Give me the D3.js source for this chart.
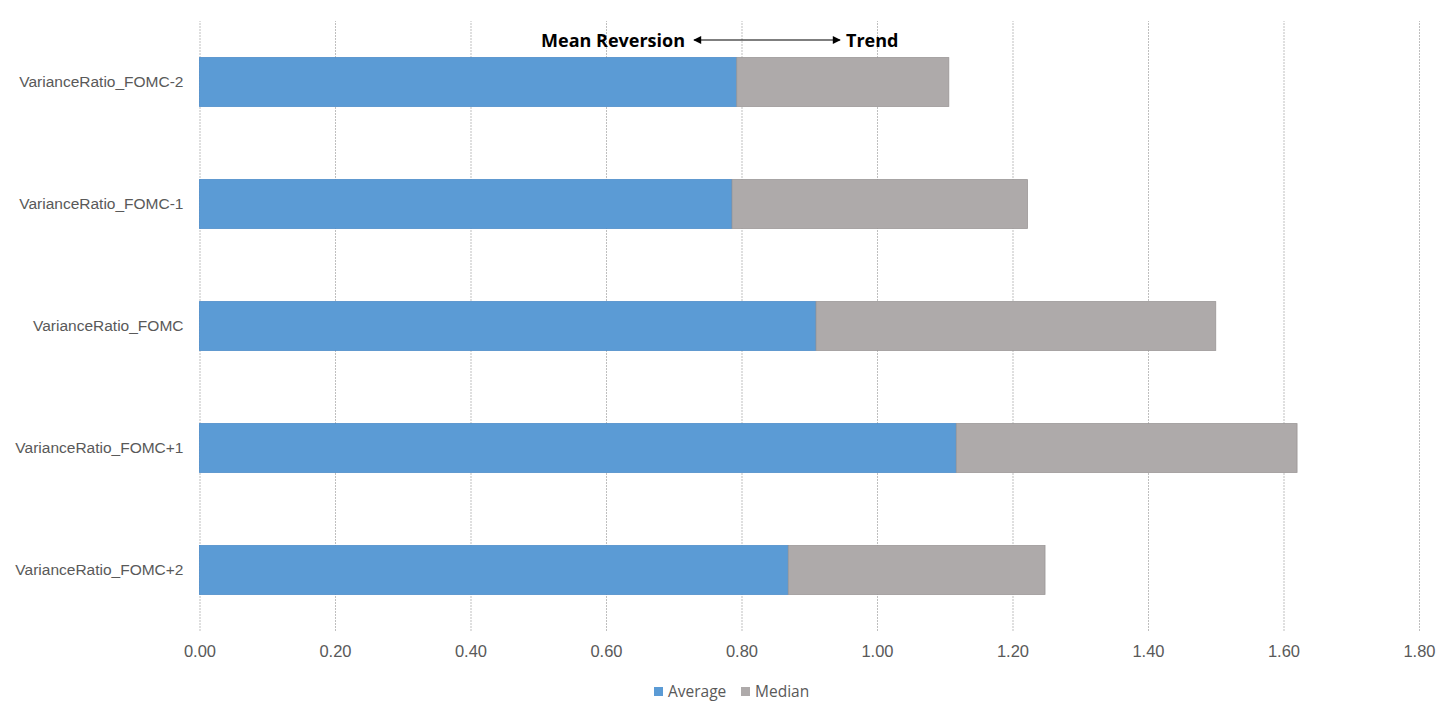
<!DOCTYPE html>
<html>
<head>
<meta charset="utf-8">
<script src="https://cdn.jsdelivr.net/npm/d3@7"></script>
<style>
  body { margin: 0; background: #fff; }
  svg { display: block; font-family: "Open Sans", "Liberation Sans", sans-serif; }
</style>
</head>
<body>
<svg id="chart"></svg>
<script>
const categories = [
  "VarianceRatio_FOMC-2",
  "VarianceRatio_FOMC-1",
  "VarianceRatio_FOMC",
  "VarianceRatio_FOMC+1",
  "VarianceRatio_FOMC+2",
];
const averageValues = [0.793, 0.786, 0.910, 1.117, 0.869];
const medianValues = [0.313, 0.436, 0.590, 0.503, 0.379];
const seriesNames = ["Average", "Median"];
const xTicks = [0, 0.2, 0.4, 0.6, 0.8, 1.0, 1.2, 1.4, 1.6, 1.8];

const width = 1456;
const height = 721;
const marginTop = 21;
const marginRight = 37;
const marginBottom = 90;
const marginLeft = 199.5;

const colors = { Average: "#5b9bd5", Median: "#aeaaaa" };
const strokes = { Average: "#4a8bc9", Median: "#9a9696" };

const rows = categories.map((c, i) => ({ category: c, Average: averageValues[i], Median: medianValues[i] }));
const stacked = d3.stack().keys(seriesNames)(rows);

const x = d3.scaleLinear().domain([0, 1.8]).range([marginLeft, width - marginRight]);
const y = d3.scaleBand().domain(categories).range([marginTop, height - marginBottom]).paddingInner(0.6).paddingOuter(0.3);

const svg = d3.select("#chart")
    .attr("width", width)
    .attr("height", height)
    .attr("viewBox", [0, 0, width, height]);

// vertical gridlines + tick labels
svg.append("g")
    .attr("transform", `translate(0,${height - marginBottom})`)
    .call(d3.axisBottom(x).tickValues(xTicks).tickFormat(d3.format(".2f")).tickSize(-(height - marginTop - marginBottom)).tickPadding(14))
    .call(g => g.select(".domain").remove())
    .call(g => g.selectAll(".tick line")
        .attr("stroke", "#bfbfbf")
        .attr("stroke-dasharray", "2,1"))
    .call(g => g.selectAll(".tick text")
        .attr("fill", "#595959")
        .attr("font-size", 16.5));

// category labels
svg.append("g")
    .attr("transform", `translate(${marginLeft - 16},0)`)
    .call(d3.axisLeft(y).tickSize(0).tickPadding(0))
    .call(g => g.select(".domain").remove())
    .call(g => g.selectAll(".tick text")
        .attr("fill", "#595959")
        .attr("font-size", 15.5));

// stacked bars
svg.append("g")
  .selectAll("g")
  .data(stacked)
  .join("g")
    .attr("fill", d => colors[d.key])
    .attr("stroke", d => strokes[d.key])
    .attr("stroke-width", 0.8)
  .selectAll("rect")
  .data(d => d)
  .join("rect")
    .attr("x", d => x(d[0]))
    .attr("y", d => y(d.data.category))
    .attr("width", d => x(d[1]) - x(d[0]))
    .attr("height", y.bandwidth());

// annotation
const ann = svg.append("g").attr("font-weight", "bold").attr("font-size", 18).attr("fill", "#000");
ann.append("text").attr("x", 685).attr("y", 47).attr("text-anchor", "end").text("Mean Reversion");
ann.append("text").attr("x", 846).attr("y", 47).text("Trend");
svg.append("defs").append("marker")
    .attr("id", "arrow")
    .attr("viewBox", "0 0 10 10")
    .attr("refX", 9).attr("refY", 5)
    .attr("markerWidth", 10).attr("markerHeight", 8)
    .attr("markerUnits", "userSpaceOnUse")
    .attr("orient", "auto-start-reverse")
  .append("path")
    .attr("d", "M0,0L10,5L0,10z")
    .attr("fill", "#000");
svg.append("line")
    .attr("x1", 694).attr("x2", 840)
    .attr("y1", 40).attr("y2", 40)
    .attr("stroke", "#000")
    .attr("stroke-width", 1.2)
    .attr("marker-start", "url(#arrow)")
    .attr("marker-end", "url(#arrow)");

// legend
const legend = svg.append("g").attr("transform", `translate(654,692)`);
const items = legend.selectAll("g")
  .data(seriesNames)
  .join("g")
    .attr("transform", (d, i) => `translate(${i * 87},0)`);
items.append("rect")
    .attr("x", 0).attr("y", -5)
    .attr("width", 9).attr("height", 9)
    .attr("fill", d => colors[d]);
items.append("text")
    .attr("x", 14).attr("y", 0)
    .attr("dy", "0.35em")
    .attr("fill", "#595959")
    .attr("font-size", 15.5)
    .text(d => d);
</script>
</body>
</html>
